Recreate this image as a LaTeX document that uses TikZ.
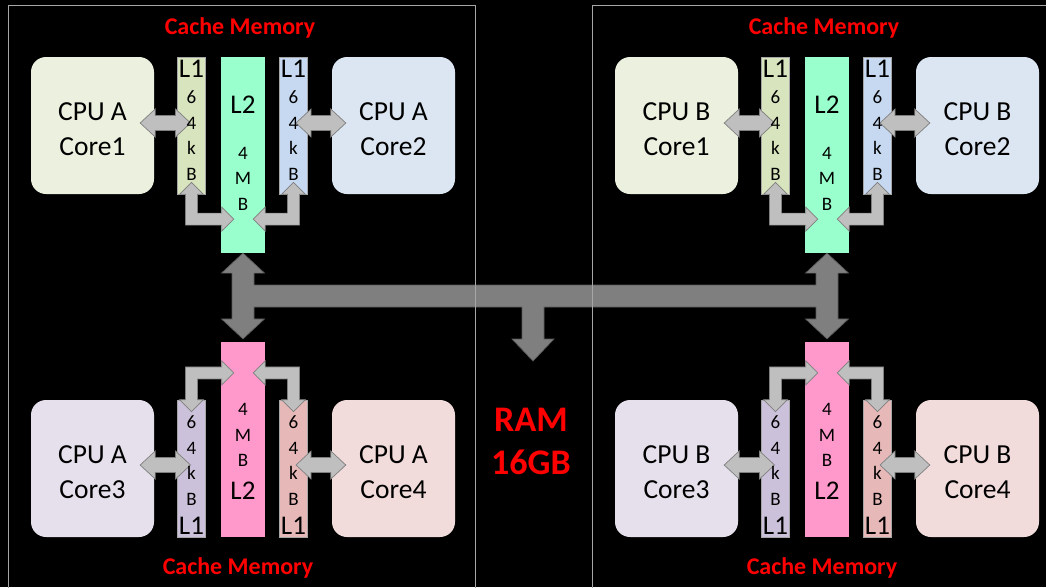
\documentclass[tikz,border=0pt]{standalone}
\usepackage{fontspec}
\setmainfont{Carlito}
\usepackage{tikz}
\usetikzlibrary{positioning,calc}

\definecolor{framegray}{HTML}{A6A6A6}
\definecolor{memred}{HTML}{FF0000}
\definecolor{coreone}{HTML}{EBF1DE}
\definecolor{coretwo}{HTML}{DCE6F2}
\definecolor{corethree}{HTML}{E6E0EC}
\definecolor{corefour}{HTML}{F2DCDB}
\definecolor{lonea}{HTML}{D7E4BD}
\definecolor{loneb}{HTML}{C6D9F1}
\definecolor{lonec}{HTML}{CCC1DA}
\definecolor{loned}{HTML}{E6B9B8}
\definecolor{ltwotop}{HTML}{99FFCC}
\definecolor{ltwobot}{HTML}{FF99CC}
\definecolor{arrlight}{HTML}{BFBFBF}
\definecolor{arrdark}{HTML}{7F7F7F}
\definecolor{busgray}{HTML}{7F7F7F}
\definecolor{busdark}{HTML}{595959}

% horizontal double block arrow: left tip, right tip
\newcommand{\hdarr}[2]{%
  \filldraw[smallarr] let \p1=(#1), \p2=(#2) in
    (\x1,\y1) -- ({\x1+15pt},{\y1+14pt}) -- ({\x1+15pt},{\y1+7.5pt})
    -- ({\x2-15pt},{\y1+7.5pt}) -- ({\x2-15pt},{\y1+14pt}) -- (\x2,\y1)
    -- ({\x2-15pt},{\y1-14pt}) -- ({\x2-15pt},{\y1-7.5pt})
    -- ({\x1+15pt},{\y1-7.5pt}) -- ({\x1+15pt},{\y1-14pt}) -- cycle;}

% bent double block arrow: vertical tip, side tip, x sign, y sign
\newcommand{\elarr}[4]{%
  \filldraw[smallarr] let \p1=(#1), \p2=(#2) in
    (\x1,\y1) -- ({\x1+(#3)*12pt},{\y1-(#4)*12pt}) -- ({\x1+(#3)*6pt},{\y1-(#4)*12pt})
    -- ({\x1+(#3)*6pt},{\y2+(#4)*6pt}) -- ({\x2-(#3)*12pt},{\y2+(#4)*6pt})
    -- ({\x2-(#3)*12pt},{\y2+(#4)*12pt}) -- (\x2,\y2)
    -- ({\x2-(#3)*12pt},{\y2-(#4)*12pt}) -- ({\x2-(#3)*12pt},{\y2-(#4)*6pt})
    -- ({\x1-(#3)*6pt},{\y2-(#4)*6pt}) -- ({\x1-(#3)*6pt},{\y1-(#4)*12pt})
    -- ({\x1-(#3)*12pt},{\y1-(#4)*12pt}) -- cycle;}

\begin{document}
\begin{tikzpicture}[x=1pt, y=-1pt,
    core/.style={rectangle, rounded corners=15pt, minimum width=123pt, minimum height=137pt, align=center, text height=60pt, font=\fontsize{27.5}{35}\selectfont},
    lonebar/.style={rectangle, draw=gray!70, line width=0.6pt, minimum width=28pt, minimum height=137pt, inner sep=0pt},
    ltwobar/.style={rectangle, minimum width=44pt, minimum height=195pt, inner sep=0pt},
    bartitle/.style={font=\fontsize{27}{30}\selectfont, inner sep=0pt},
    barsize/.style={font=\fontsize{19}{25.5}\selectfont, align=center, inner sep=0pt},
    cachetitle/.style={text=memred, font=\fontsize{24}{28}\selectfont\bfseries},
    ramtitle/.style={text=memred, align=center, font=\fontsize{36}{43}\selectfont\bfseries},
    smallarr/.style={fill=arrlight, draw=arrdark, line width=0.7pt},
    busarr/.style={fill=busgray, draw=busdark, line width=0.7pt},
    framebox/.style={draw=framegray, line width=0.8pt}
]
\useasboundingbox (0,0) rectangle (1046,587);
\fill[black] (0,0) rectangle (1046,587);

\foreach \cpu/\dx in {A/0,B/584}{
  % Titles
  \node[cachetitle] (ctop\cpu) at ({240+\dx},28) {Cache Memory};
  \node[cachetitle] (cbot\cpu) at ({238+\dx},568) {Cache Memory};

  % Upper cores and caches
  \node[core, fill=coreone] (core1\cpu) at ({92.5+\dx},125.5) {CPU \cpu\\Core1};
  \node[lonebar, fill=lonea, right=23pt of core1\cpu] (l1a\cpu) {};
  \node[ltwobar, fill=ltwotop, minimum height=196pt, right=15pt of l1a\cpu.north east, anchor=north west] (l2t\cpu) {};
  \node[lonebar, fill=loneb, right=14pt of l2t\cpu.north east, anchor=north west] (l1b\cpu) {};
  \node[core, fill=coretwo, right=24pt of l1b\cpu] (core2\cpu) {CPU \cpu\\Core2};

  % Lower cores and caches
  \node[core, fill=corethree] (core3\cpu) at ({92.5+\dx},468.5) {CPU \cpu\\Core3};
  \node[lonebar, fill=lonec, right=23pt of core3\cpu] (l1c\cpu) {};
  \node[ltwobar, fill=ltwobot, right=15pt of l1c\cpu.south east, anchor=south west] (l2b\cpu) {};
  \node[lonebar, fill=loned, right=14pt of l2b\cpu.south east, anchor=south west] (l1d\cpu) {};
  \node[core, fill=corefour, right=24pt of l1d\cpu] (core4\cpu) {CPU \cpu\\Core4};

  % Core <-> L1 <-> L2
  \hdarr{[xshift=-14pt,yshift=2.5pt]core1\cpu.east}{[xshift=-1pt]l1a\cpu.center}
  \hdarr{[xshift=2.5pt,yshift=2.5pt]l1b\cpu.center}{[xshift=14pt]core2\cpu.west}
  \hdarr{[xshift=-14pt,yshift=3.5pt]core3\cpu.east}{[xshift=-1pt]l1c\cpu.center}
  \hdarr{[xshift=2.5pt,yshift=3.5pt]l1d\cpu.center}{[xshift=14pt]core4\cpu.west}
  \elarr{[yshift=12pt]l1a\cpu.south}{[xshift=13pt,yshift=34pt]l2t\cpu.south west}{1}{1}
  \elarr{[yshift=12pt]l1b\cpu.south}{[xshift=-12pt,yshift=34pt]l2t\cpu.south east}{-1}{1}
  \elarr{[yshift=-12pt]l1c\cpu.north}{[xshift=13pt,yshift=-31pt]l2b\cpu.north west}{1}{-1}
  \elarr{[yshift=-12pt]l1d\cpu.north}{[xshift=-12pt,yshift=-31pt]l2b\cpu.north east}{-1}{-1}

  % Cache sizes
  \node[bartitle] (n1a\cpu) at ([yshift=-12.5pt]l1a\cpu.north) {L1};
  \node[barsize] (s1a\cpu) at ([yshift=-79pt]l1a\cpu.north) {6\\4\\k\\B};
  \node[bartitle] (n2t\cpu) at ([yshift=-48pt]l2t\cpu.north) {L2};
  \node[barsize] (s2t\cpu) at ([yshift=-122pt]l2t\cpu.north) {4\\M\\B};
  \node[bartitle] (n1b\cpu) at ([yshift=-12.5pt]l1b\cpu.north) {L1};
  \node[barsize] (s1b\cpu) at ([yshift=-79pt]l1b\cpu.north) {6\\4\\k\\B};
  \node[barsize] (s1c\cpu) at ([yshift=-61pt]l1c\cpu.north) {6\\4\\k\\B};
  \node[bartitle] (n1c\cpu) at ([yshift=11pt]l1c\cpu.south) {L1};
  \node[barsize] (s2b\cpu) at ([yshift=-93pt]l2b\cpu.north) {4\\M\\B};
  \node[bartitle] (n2b\cpu) at ([yshift=47pt]l2b\cpu.south) {L2};
  \node[barsize] (s1d\cpu) at ([yshift=-61pt]l1d\cpu.north) {6\\4\\k\\B};
  \node[bartitle] (n1d\cpu) at ([yshift=11pt]l1d\cpu.south) {L1};
}

% RAM
\node[ramtitle] (ram) at (531,441) {RAM\\16GB};
\coordinate (ramtip) at (533,361);

% Shared bus
\filldraw[busarr] let \p1=(l2tA.south), \p2=([yshift=3pt]l2bA.north), \p3=(l2tB.south), \p4=(ramtip) in
  (\x1,\y1) -- ({\x1+21.5pt},{\y1-20pt}) -- ({\x1+11pt},{\y1-20pt})
  -- ({\x1+11pt},{0.5*\y1+0.5*\y2+11pt}) -- ({\x3-11pt},{0.5*\y1+0.5*\y2+11pt})
  -- ({\x3-11pt},{\y3-20pt}) -- ({\x3-21.5pt},{\y3-20pt}) -- (\x3,\y3)
  -- ({\x3+21.5pt},{\y3-20pt}) -- ({\x3+11pt},{\y3-20pt})
  -- ({\x3+11pt},{\y2+20pt}) -- ({\x3+21.5pt},{\y2+20pt}) -- (\x3,\y2)
  -- ({\x3-21.5pt},{\y2+20pt}) -- ({\x3-11pt},{\y2+20pt})
  -- ({\x3-11pt},{0.5*\y1+0.5*\y2-11pt}) -- ({\x4+11pt},{0.5*\y1+0.5*\y2-11pt})
  -- ({\x4+11pt},{\y4+22pt}) -- ({\x4+21pt},{\y4+22pt}) -- (\x4,\y4)
  -- ({\x4-21pt},{\y4+22pt}) -- ({\x4-11pt},{\y4+22pt})
  -- ({\x4-11pt},{0.5*\y1+0.5*\y2-11pt}) -- ({\x1+11pt},{0.5*\y1+0.5*\y2-11pt})
  -- ({\x1+11pt},{\y2+20pt}) -- ({\x1+21.5pt},{\y2+20pt}) -- (\x1,\y2)
  -- ({\x1-21.5pt},{\y2+20pt}) -- ({\x1-11pt},{\y2+20pt})
  -- ({\x1-11pt},{\y1-20pt}) -- ({\x1-21.5pt},{\y1-20pt}) -- cycle;

% Frames
\foreach \dx in {0,584}
  \draw[framebox] ({8+\dx},5) rectangle ({475+\dx},600);
\end{tikzpicture}
\end{document}
